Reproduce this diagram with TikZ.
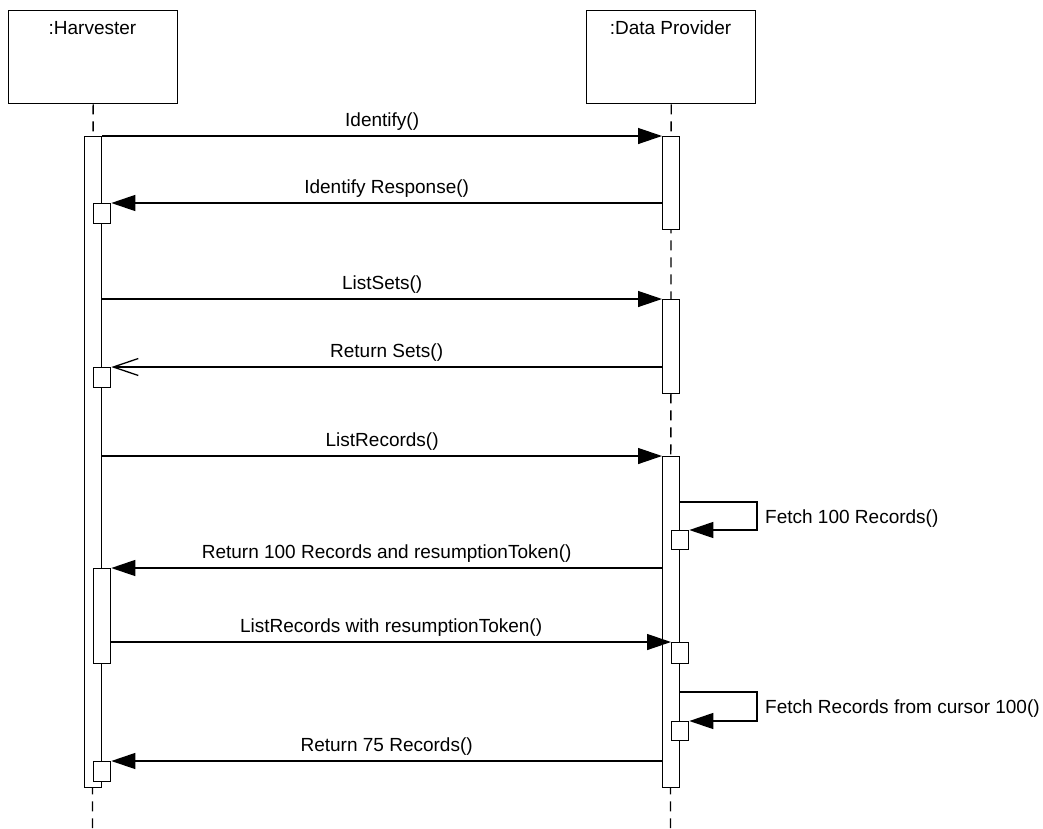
\documentclass[tikz,border=0pt]{standalone}
\usepackage{fontspec}
\setmainfont{Liberation Sans}
\usetikzlibrary{arrows.meta,calc}

\begin{document}
\begin{tikzpicture}[x=1pt,y=-1pt,
  every node/.style={font=\fontsize{19}{22}\selectfont},
  head/.style={draw, line width=1.3pt, rectangle, inner sep=0pt, anchor=north west},
  bar/.style={draw, fill=white, line width=1.3pt, rectangle, inner sep=0pt,
              anchor=north west, minimum width=17pt},
  lifeline/.style={line width=1.3pt, dash pattern=on 10pt off 7pt},
  call/.style={line width=1.3pt, -{Triangle[length=24pt,width=16pt]}},
  reply/.style={line width=1.3pt, -{Straight Barb[length=25pt,width=17pt]}},
  msg/.style={anchor=base, inner sep=0pt, yshift=10pt},
  note/.style={anchor=base west, inner sep=0pt},
]
\useasboundingbox (0,0) rectangle (1043,828);

% object heads
\node[head, minimum width=169pt, minimum height=93pt] (harv) at (8,10) {};
\node[head, minimum width=169pt, minimum height=93pt] (prov) at (586,10) {};
\node[anchor=base, inner sep=0pt] (harvName) at (92.5,34) {:Harvester};
\node[anchor=base, inner sep=0pt] (provName) at (670.5,34) {:Data Provider};

% lifelines
\coordinate (harvEnd) at (92.5,828);
\coordinate (provEnd) at (670.5,828);
\draw[lifeline] (harv.south) -- (harvEnd);
\draw[lifeline] (prov.south) -- (provEnd);

% activations of the harvester
\node[bar, minimum height=651pt] (hMain) at (84,136) {};
\node[bar, minimum height=20pt] (hS1) at (93,203) {};
\node[bar, minimum height=20pt] (hS2) at (93,367) {};
\node[bar, minimum height=95pt] (hNest) at (93,568) {};
\node[bar, minimum height=20pt] (hS3) at (93,761) {};

% activations of the data provider
\node[bar, minimum height=93pt] (dA) at (662,136) {};
\node[bar, minimum height=94pt] (dB) at (662,299) {};
\node[bar, minimum height=331pt] (dC) at (662,456) {};
\node[bar, minimum height=19pt] (dS1) at (671,530) {};
\node[bar, minimum height=21pt] (dS2) at (671,642) {};
\node[bar, minimum height=19pt] (dS3) at (671,721) {};

% self-call corners
\coordinate (loopA) at (757,502);
\coordinate (loopB) at (757,692);

% messages
\draw[call] (hMain.north east) -- (dA.north west)
  node[msg, midway] (m1) {Identify()};
\draw[call] (dA.west |- hS1.north) -- (hS1.north east)
  node[msg, midway] (m2) {Identify Response()};
\draw[call] (hMain.east |- dB.north) -- (dB.north west)
  node[msg, midway] (m3) {ListSets()};
\draw[reply] (dB.west |- hS2.north) -- (hS2.north east)
  node[msg, midway] (m4) {Return Sets()};
\draw[call] (hMain.east |- dC.north) -- (dC.north west)
  node[msg, midway] (m5) {ListRecords()};
\draw[call] (dC.east |- loopA) -- (loopA) |- (dS1.north east);
\node[note] (m6) at (765,523) {Fetch 100 Records()};
\draw[call] (dC.west |- hNest.north) -- (hNest.north east)
  node[msg, midway] (m7) {Return 100 Records and resumptionToken()};
\draw[call] (hNest.east |- dS2.north) -- (dS2.north west)
  node[msg, midway] (m8) {ListRecords with resumptionToken()};
\draw[call] (dC.east |- loopB) -- (loopB) |- (dS3.north east);
\node[note] (m9) at (765,713) {Fetch Records from cursor 100()};
\draw[call] (dC.west |- hS3.north) -- (hS3.north east)
  node[msg, midway] (m10) {Return 75 Records()};
\end{tikzpicture}
\end{document}
